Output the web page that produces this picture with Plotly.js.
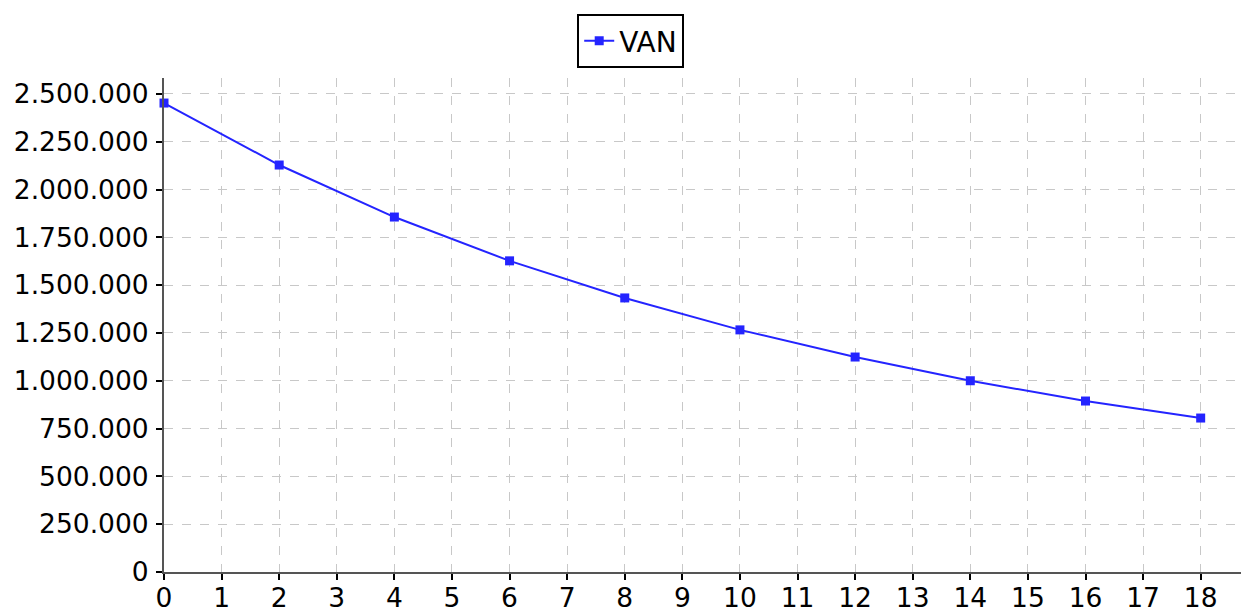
<!DOCTYPE html>
<html>
<head>
<meta charset="utf-8">
<script src="https://cdn.plot.ly/plotly-3.0.1.min.js"></script>
<style>html,body{margin:0;padding:0;background:#fff;}#chart{width:1244px;height:610px;}</style>
</head>
<body>
<div id="chart"></div>
<script>
const years = [0, 2, 4, 6, 8, 10, 12, 14, 16, 18];
const van = [2452000, 2128000, 1856000, 1627000, 1433000, 1266000, 1124000, 1000000, 894000, 805000];
const seriesName = "VAN";

const trace = {
  x: years, y: van, name: seriesName, type: 'scatter', mode: 'lines+markers',
  line: {color: '#2424ff', width: 2},
  marker: {symbol: 'square', size: 9, color: '#2424ff'},
  showlegend: true,
  cliponaxis: false
};
const font = {family: 'DejaVu Sans', size: 26.5, color: '#000'};
const legendFont = {family: 'DejaVu Sans', size: 28, color: '#000'};
const layout = {
  width: 1244, height: 610,
  margin: {l: 164, r: 3, t: 78, b: 38, autoexpand: false},
  paper_bgcolor: '#fff', plot_bgcolor: '#fff',
  separators: ',.',
  font: font,
  showlegend: true,
  legend: {
    xref: 'container', yref: 'container', x: 0.507, y: 0.977, xanchor: 'center', yanchor: 'top',
    bordercolor: '#000', borderwidth: 2, bgcolor: '#fff', font: legendFont, itemwidth: 30,
    tracegroupgap: 0
  },
  xaxis: {
    range: [0, 18.7], dtick: 1, tick0: 0, tickangle: 0, showgrid: true, gridcolor: '#c8c8c8', griddash: 'dash', gridwidth: 1,
    showline: true, linecolor: '#555', linewidth: 2, ticks: 'outside', ticklen: 6, tickcolor: '#000', tickwidth: 2,
    ticklabelstandoff: -5,
    zeroline: false, tickfont: font, automargin: false
  },
  yaxis: {
    range: [0, 2583000], dtick: 250000, tick0: 0, tickformat: ',d', showgrid: true, gridcolor: '#c8c8c8', griddash: 'dash', gridwidth: 1,
    showline: true, linecolor: '#555', linewidth: 2, ticks: 'outside', ticklen: 6, tickcolor: '#000', tickwidth: 2,
    ticklabelstandoff: 2,
    zeroline: false, tickfont: font, automargin: false
  }
};
Plotly.newPlot('chart', [trace], layout, {displayModeBar: false, staticPlot: true});
</script>
</body>
</html>
